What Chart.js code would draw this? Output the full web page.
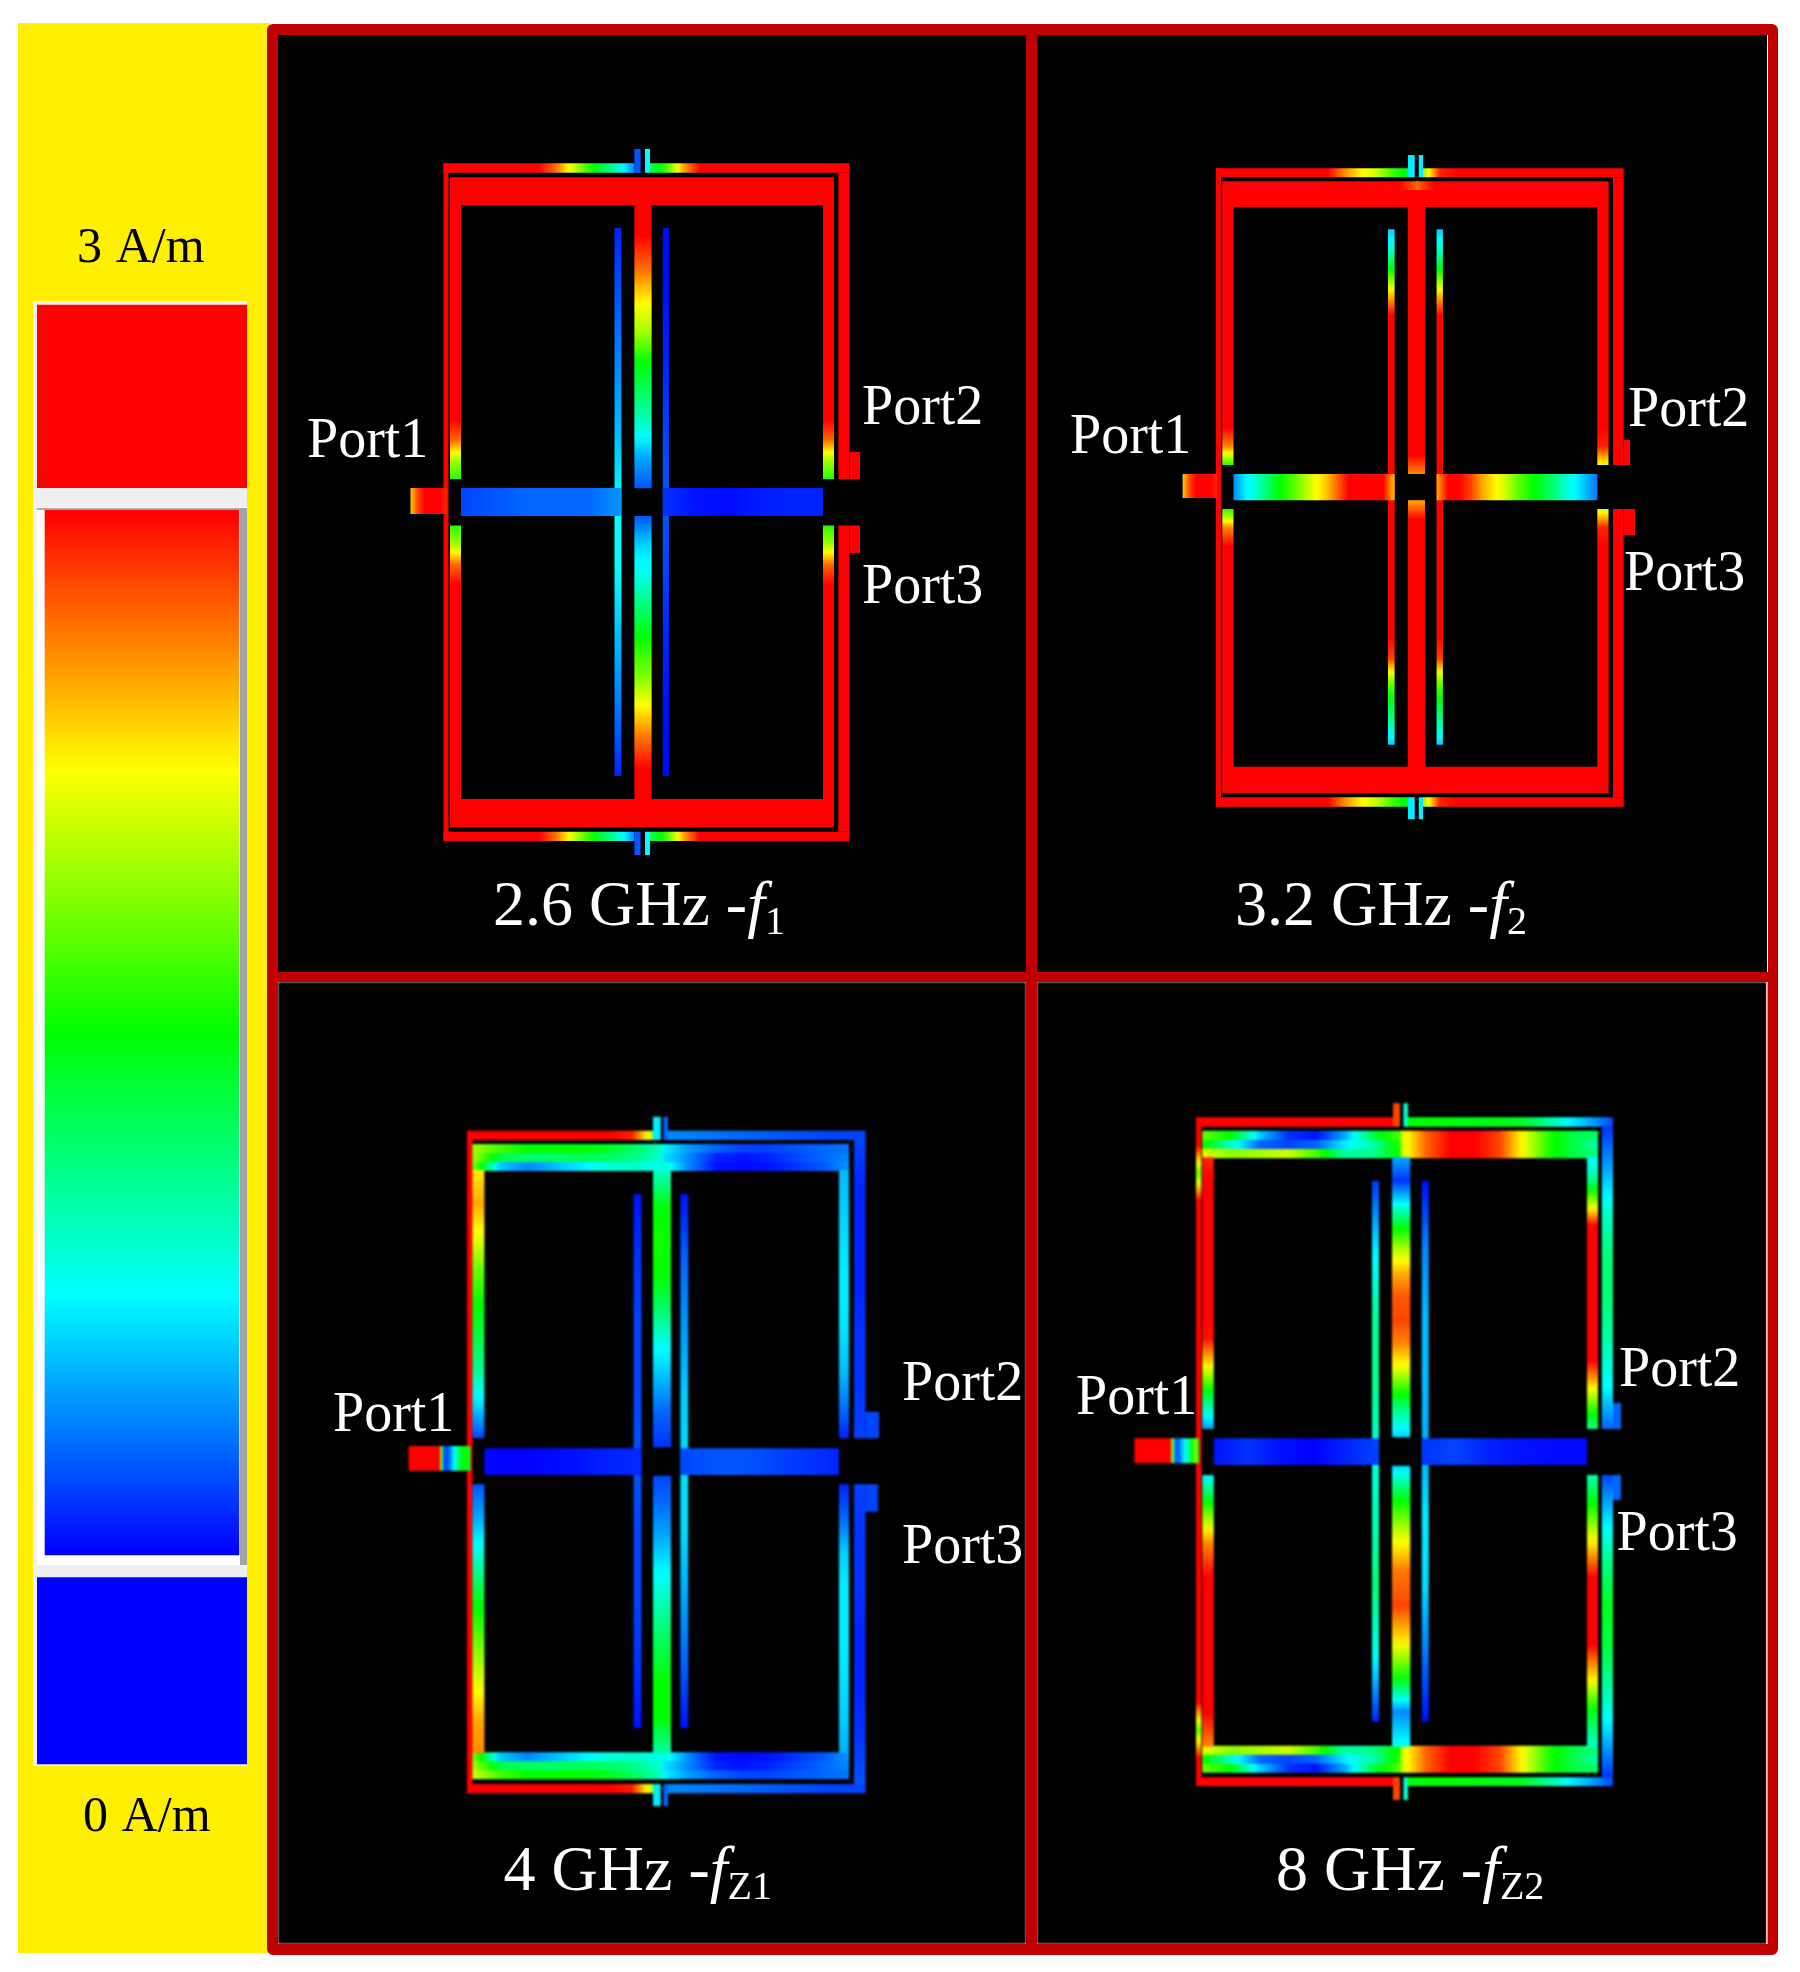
<!DOCTYPE html>
<html lang="en">
<head>
  <meta charset="UTF-8">
  <title>Surface current distribution at 2.6, 3.2, 4 and 8 GHz</title>
  <script src="https://cdn.jsdelivr.net/npm/chart.js"></script>
  <style>
    html, body { margin: 0; background: #fff; }
    #page { position: relative; width: 1800px; height: 1972px; overflow: hidden; font-family: "Liberation Serif", serif; }
    #page > * { position: absolute; }
    canvas { display: block; }
    .label { white-space: pre; line-height: 1; }
    .label sub { font-size: 40px; line-height: 0; vertical-align: baseline; position: relative; top: 9px; }
  </style>
</head>
<body>
  <div id="page"></div>

  <script>
    // --- chart values ---------------------------------------------------
    const scaleLabels = ['0 A/m', '3 A/m'];
    const scaleRange = [0, 3];
    const overRange = [3.064, 3.588];
    const underRange = [-0.6, -0.065];
    const stopValues = [0, 0.75, 1.5, 2.25, 3];
    const stopColors = ['#0000ff', '#00ffff', '#00ff00', '#ffff00', '#ff0000'];

    const frequencies = ['2.6 GHz', '3.2 GHz', '4 GHz', '8 GHz'];
    const subscripts = ['1', '2', 'Z1', 'Z2'];
    const portNames = ['Port1', 'Port2', 'Port3'];

    // Current samples in A/m, evenly spaced along each trace.
    // Order: see traceRects() below.
    const hot = [3];

    const currentsF1 = [
      [3, 3, 3, 3, 3, 3, 3, 2.7, 2.2, 1.7, 1.3, 0.9, 0.4],
      [1.2, 1.7, 2.5, 3, 3, 3, 3, 3, 3, 3, 3, 3, 3],
      [3, 3, 3, 3, 3, 3, 3, 2.7, 2.2, 1.7, 1.3, 0.9, 0.4],
      [1.2, 1.7, 2.5, 3, 3, 3, 3, 3, 3, 3, 3, 3, 3],
      [0.25], [0.75], [0.25], [0.75],
      hot, hot, hot, hot, hot,
      hot, hot, hot, hot, hot, hot,
      hot, hot, hot, hot, hot, hot,
      [3, 3, 3, 3, 3, 3, 3, 3, 3, 3, 3, 3, 2.7, 2, 1.6],
      [1.6, 2, 2.7, 3, 3, 3, 3, 3, 3, 3, 3, 3, 3, 3, 3],
      [3, 3, 3, 3, 3, 3, 3, 3, 3, 3, 3, 3, 2.7, 2, 1.6],
      [1.6, 2, 2.7, 3, 3, 3, 3, 3, 3, 3, 3, 3, 3, 3, 3],
      [3, 3, 2.7, 2.3, 2, 1.5, 1.2, 0.9, 0.5, 0.25],
      [0.25, 0.65, 0.85, 1.2, 1.55, 1.85, 2.25, 2.65, 3, 3],
      [0.1, 0.25, 0.4, 0.55, 0.75, 0.75, 0.55, 0.35, 0.1],
      [0.02, 0.05, 0.1, 0.2, 0.25, 0.2, 0.1, 0.05, 0.02],
      [0.2, 0.25, 0.3, 0.3, 0.3, 0.45],
      [0.15, 0.05, 0.03, 0.08, 0.1, 0.1],
      [2.4, 2.8, 3, 3, 3, 2.9]
    ];

    const currentsF2 = [
      [3, 3, 3, 3, 3, 3, 3, 3, 2.6, 2.3, 2.1, 1.7, 1.4],
      [1.9, 2.9, 3, 3, 3, 3, 3, 3, 3, 3, 3, 3, 3],
      [3, 3, 3, 3, 3, 3, 3, 3, 2.6, 2.3, 2.1, 1.7, 1.4],
      [1.9, 2.9, 3, 3, 3, 3, 3, 3, 3, 3, 3, 3, 3],
      [0.7], [0.7], [0.7], [0.7],
      hot, hot, hot, hot, hot,
      [3, 3, 3, 3, 3, 3, 3, 3, 3, 3, 3, 2.7], hot, hot,
      [2.7, 3, 3, 3, 3, 3, 3, 3, 3, 3, 3, 3], hot, hot,
      hot, hot, hot, hot, hot, hot,
      [3, 3, 3, 3, 3, 3, 3, 3, 3, 3, 3, 3, 3, 2.6, 1.6],
      [1.6, 2.6, 3, 3, 3, 3, 3, 3, 3, 3, 3, 3, 3, 3, 3],
      [3, 3, 3, 3, 3, 3, 3, 3, 3, 3, 3, 3, 3, 2.9, 2.2],
      [2.1, 2.9, 3, 3, 3, 3, 3, 3, 3, 3, 3, 3, 3, 3, 3],
      [3, 3, 3, 3, 3, 3, 3, 3, 3, 3, 3, 3, 3, 3, 2.6],
      [2.5, 3, 3, 3, 3, 3, 3, 3, 3, 3, 3, 3, 3, 3, 3],
      [0.6, 0.9, 1.6, 2.4, 3, 3, 3, 3, 3, 3, 3, 3, 3, 3, 3, 3, 3, 3, 3, 3, 2.8, 1.9, 1.4, 1, 0.6],
      [0.6, 0.9, 1.6, 2.4, 3, 3, 3, 3, 3, 3, 3, 3, 3, 3, 3, 3, 3, 3, 3, 3, 2.8, 1.9, 1.4, 1, 0.6],
      [0.4, 0.7, 0.9, 1.2, 1.5, 1.7, 1.95, 2.2, 2.4, 2.7, 3, 3, 3, 3, 2.4],
      [2.5, 3, 3, 2.8, 2.5, 2.3, 2.1, 1.8, 1.6, 1.4, 1.2, 0.95, 0.75, 0.55, 0.35],
      [2.4, 2.8, 3, 3, 3, 2.9]
    ];

    const currentsZ1 = [
      [3, 3, 3, 3, 3, 3, 3, 3, 2.9, 2],
      [0.4, 0.35, 0.3, 0.25, 0.2, 0.2],
      [3, 3, 3, 3, 3, 3, 3, 3, 2.9, 2],
      [0.4, 0.35, 0.3, 0.25, 0.2, 0.2],
      [0.7], [0.3], [0.7], [0.3],
      hot,
      [0.2, 0.1, 0.1, 0.1, 0.15, 0.15, 0.2],
      [0.2, 0.15, 0.15, 0.1, 0.1, 0.15, 0.25],
      [0.2], [0.2],
      [2, 1.7, 1.5, 1.5, 1.5, 1.4, 1.2, 0.9],
      [2, 1.3, 1.2, 1.2, 1.25, 1.2, 1.1, 0.85],
      [1.9, 0.6, 0.4, 0.55, 0.7, 0.85, 0.9, 0.8],
      [0.75, 0.45, 0.3, 0.2, 0.2, 0.25, 0.3, 0.35],
      [0.7, 0.4, 0.1, 0.05, 0.1, 0.2, 0.3, 0.4],
      [0.9, 0.4, 0.05, 0.03, 0.05, 0.15, 0.25, 0.45],
      [1.9, 0.6, 0.4, 0.55, 0.7, 0.85, 0.9, 0.8],
      [2, 1.3, 1.2, 1.2, 1.25, 1.2, 1.1, 0.85],
      [2.1, 1.7, 1.5, 1.5, 1.5, 1.4, 1.2, 0.9],
      [0.9, 0.4, 0.05, 0.03, 0.05, 0.15, 0.25, 0.45],
      [0.7, 0.4, 0.1, 0.05, 0.1, 0.2, 0.3, 0.4],
      [0.75, 0.45, 0.3, 0.2, 0.2, 0.25, 0.3, 0.35],
      [2.3, 2.5, 2.2, 1.8, 1.5, 1.3, 1.05, 0.65, 0.2],
      [0.25, 0.5, 0.85, 1.25, 1.6, 1.9, 2.2, 2.5, 2.6],
      [0.55, 0.6, 0.65, 0.7, 0.7, 0.65, 0.55, 0.35, 0.1],
      [0.1, 0.3, 0.6, 0.7, 0.7, 0.7, 0.65, 0.6, 0.5],
      [0.9, 1.45, 1.55, 1.5, 1.2, 0.8, 0.55, 0.3, 0.15],
      [0.2, 0.35, 0.55, 0.8, 1.05, 1.3, 1.5, 1.5, 1],
      [0.05, 0.15, 0.2, 0.2, 0.25, 0.2, 0.2, 0.15, 0.05],
      [0.05, 0.3, 0.45, 0.6, 0.65, 0.65, 0.5, 0.3, 0.05],
      [0.02, 0, 0.02, 0.05, 0.1, 0.12],
      [0.2, 0.25, 0.25, 0.2, 0.15, 0.1],
      [3, 3, 3, 3, 3, 3, 3, 3, 3, 0.25, 0.2, 0.5, 0.8, 1.2, 1.5, 1.5, 1.3]
    ];

    const currentsZ2 = [
      hot,
      [1.5, 1.5, 1.5, 1.45, 1.45, 1.4, 1.1, 0.75, 0.5, 0.2],
      hot,
      [1.5, 1.5, 1.5, 1.45, 1.45, 1.4, 1.1, 0.75, 0.5, 0.2],
      [2.8], [0.9], [2.8], [0.9],
      [3, 3, 1.8, 3, 3, 3, 3, 3, 3, 3, 3, 3, 3, 3, 3, 3, 3, 3, 3, 3, 3, 3, 1.8, 3, 3],
      [0.15, 0.5, 0.9, 1.15, 1.15, 1, 0.75, 0.3],
      [0.2, 0.65, 1.1, 1.4, 1.3, 1, 0.6, 0.15],
      [0.3], [0.3],
      [1.8, 1.5, 0.6, 0.15, 0.05, 0.5, 1.3, 1.8],
      [1.6, 0.9, 0.3, 0.2, 0.3, 0.7, 1, 1.7],
      [2.2, 1.9, 2, 2.1, 1.7, 1, 1.1, 1.6],
      [2.1, 2.7, 3, 3, 2.8, 2.2, 1.6, 1.3, 1.2],
      [2.1, 2.7, 3, 3, 2.8, 2.2, 1.6, 1.3, 1],
      [2.1, 2.7, 3, 3, 2.8, 2.2, 1.6, 1.3, 1.1],
      [2.2, 1.9, 2, 2.1, 1.7, 1, 1.1, 1.6],
      [1.6, 0.9, 0.3, 0.2, 0.3, 0.7, 1, 1.7],
      [1.8, 1.5, 0.6, 0.15, 0.05, 0.5, 1.3, 1.8],
      [2.1, 2.7, 3, 3, 2.8, 2.2, 1.6, 1.3, 1.1],
      [2.1, 2.7, 3, 3, 2.8, 2.2, 1.6, 1.3, 1],
      [2.1, 2.7, 3, 3, 2.8, 2.2, 1.6, 1.3, 1.2],
      [2.9, 3, 3, 3, 3, 3, 3, 3, 2.95, 2.4, 1.7, 1, 0.45],
      [0.7, 1.7, 2.6, 3, 3, 3, 3, 3, 2.6],
      [0.7, 1.1, 2, 3, 3, 3, 3, 3, 3, 3, 2.4, 1.7, 1.1],
      [1, 1.6, 2.3, 3, 3, 3, 2.3, 1.4, 0.9],
      [0.5, 0.15, 0.75, 1.45, 2.05, 2.5, 2.75, 2.8, 2.6, 2.2, 1.6, 1, 0.6],
      [0.6, 1.5, 2.15, 2.65, 2.8, 2.3, 1.55, 0.4, 0.8],
      [0.15, 0.7, 1.05, 1.1, 0.85, 0.95, 1.15, 0.8, 0.1],
      [0.03, 0.4, 0.55, 0.55, 0.5, 0.7, 0.65, 0.35, 0.03],
      [0.05, 0.15, 0.05, 0, 0.1, 0.2],
      [0.15, 0.2, 0.1, 0.05, 0.03, 0.03],
      [3, 3, 3, 3, 3, 3, 3, 3, 3, 3, 0.3, 0.3, 0.6, 0.9, 1.3, 1.9, 1.5]
    ];

    // --- layout: board outline of each panel, in page pixels ------------
    const edgeNames = ['oL', 'oL2', 'oR2', 'oR', 'oT', 'oT2', 'oB2', 'oB',
      'sL1', 'sL2', 'sR1', 'sR2', 'sT', 'sB',
      'iL', 'iL2', 'iR2', 'iR', 'iT', 'iT2', 'iB2', 'iB',
      'cL', 'cR', 'cT', 'cB',
      'tL1', 'tL2', 'tR1', 'tR2', 'tT', 'tB',
      'bT', 'bB', 'vT', 'vB',
      'pL', 'pR', 'pT', 'pB',
      'p2R', 'p2T', 'p3R', 'p3B'];

    const edgesF1 = [443.5, 448.4, 838.4, 849.5, 163.3, 172.7, 831.7, 841,
      634.4, 640.6, 645, 650, 149, 855,
      450, 461, 823, 834, 177.3, 205.3, 799, 827.3,
      634.4, 651.6, 488.3, 516,
      614.5, 621.4, 662.8, 668.9, 228, 776,
      488, 516, 479, 525.5,
      410.5, 447, 488, 514,
      860, 451.7, 860, 553];
    const edgesF2 = [1216, 1221, 1613, 1623.7, 168.3, 177.3, 797.3, 806.7,
      1408, 1414.7, 1418.8, 1423, 155, 819.3,
      1222.3, 1233.5, 1597.3, 1608.5, 181.3, 207.3, 766.7, 793.3,
      1408, 1425, 474, 500.3,
      1388, 1394.6, 1436.6, 1442.9, 229.3, 744.7,
      474, 500.3, 465, 509,
      1182.6, 1217, 474, 498,
      1630, 440, 1635, 535];
    const edgesZ1 = [467, 472.4, 854, 865.5, 1130.7, 1140, 1784, 1793.3,
      653, 660.7, 663.4, 668, 1116.7, 1806,
      472.4, 484.4, 839, 849, 1144, 1171, 1752.3, 1779.3,
      653, 671, 1447.3, 1475.7,
      633.6, 641.4, 680.4, 688.2, 1194, 1728,
      1448.3, 1475, 1438.3, 1484.3,
      408.6, 470.6, 1446, 1470.7,
      879, 1411.7, 878, 1511.7];
    const edgesZ2 = [1196, 1201.4, 1601.8, 1613, 1117.3, 1126.7, 1777.3, 1786,
      1393, 1400, 1403.4, 1408, 1103.3, 1800,
      1202.3, 1213.8, 1587, 1598, 1130.7, 1158.3, 1745.7, 1772.7,
      1392, 1410.3, 1437.3, 1465.7,
      1372, 1379, 1421.8, 1428.7, 1180.7, 1721.7,
      1438.3, 1465, 1429, 1475,
      1134.4, 1199, 1438.3, 1463.3,
      1621, 1403, 1621, 1500];

    // [direction, x0, x1, y0, y1], same order as the current arrays
    function traceRects(e) {
      const mid = (e.cL + e.cR) / 2;
      const top = (e.iT2 - e.iT) / 3;
      const bot = (e.iB - e.iB2) / 3;
      const rects = [
        ['h', e.oL, e.sL1, e.oT, e.oT2], ['h', e.sR2, e.oR, e.oT, e.oT2],
        ['h', e.oL, e.sL1, e.oB2, e.oB], ['h', e.sR2, e.oR, e.oB2, e.oB],
        ['v', e.sL1, e.sL2, e.sT, e.oT2], ['v', e.sR1, e.sR2, e.sT, e.oT2],
        ['v', e.sL1, e.sL2, e.oB2, e.sB], ['v', e.sR1, e.sR2, e.oB2, e.sB],
        ['v', e.oL, e.oL2, e.oT, e.oB],
        ['v', e.oR2, e.oR, e.oT2, e.vT], ['v', e.oR2, e.oR, e.vB, e.oB2],
        ['v', e.oR, e.p2R, e.p2T, e.vT], ['v', e.oR, e.p3R, e.vB, e.p3B]
      ];
      // strips overlap by a pixel so no seam shows between them
      const strips = (from, step) => {
        for (const [x0, x1] of [[e.iL, mid + 1], [mid, e.iR]]) {
          for (let i = 0; i < 3; i++) {
            rects.push(['h', x0, x1, from + i * step, from + (i + 1) * step + (i < 2 ? 1 : 0)]);
          }
        }
      };
      strips(e.iT, top);
      strips(e.iB2, bot);
      rects.push(
        ['v', e.iL, e.iL2, e.iT2 - 1, e.vT], ['v', e.iL, e.iL2, e.vB, e.iB2 + 1],
        ['v', e.iR2, e.iR, e.iT2 - 1, e.vT], ['v', e.iR2, e.iR, e.vB, e.iB2 + 1],
        ['v', e.cL, e.cR, e.iT2 - 1, e.cT], ['v', e.cL, e.cR, e.cB, e.iB2 + 1],
        ['v', e.tL1, e.tL2, e.tT, e.tB], ['v', e.tR1, e.tR2, e.tT, e.tB],
        ['h', e.iL2, e.tL2, e.bT, e.bB], ['h', e.tR1, e.iR2, e.bT, e.bB],
        ['h', e.pL, e.pR, e.pT, e.pB]
      );
      return rects;
    }

    // --- helpers --------------------------------------------------------
    const page = document.getElementById('page');

    function box(left, top, width, height, css) {
      const el = document.createElement('div');
      el.style.cssText = `left:${left}px;top:${top}px;width:${width}px;height:${height}px;${css || ''}`;
      page.appendChild(el);
      return el;
    }

    function addCanvas(left, top, width, height, css) {
      const canvas = document.createElement('canvas');
      canvas.width = width;
      canvas.height = height;
      canvas.style.cssText = `left:${left}px;top:${top}px;width:${width}px;height:${height}px;${css || ''}`;
      page.appendChild(canvas);
      return canvas;
    }

    // baseline is given, Liberation Serif sits .8375em under the line top at line-height 1
    function addText(html, left, baseline, size, color, css) {
      const el = document.createElement('div');
      el.className = 'label';
      el.innerHTML = html;
      el.style.cssText = `left:${left}px;top:${baseline - 0.8375 * size}px;font-size:${size}px;color:${color};${css || ''}`;
      page.appendChild(el);
    }

    function hex(c) {
      return [1, 3, 5].map(i => parseInt(c.slice(i, i + 2), 16));
    }

    function colorOf(v) {
      let i = 0;
      while (i < stopValues.length - 2 && v > stopValues[i + 1]) i++;
      const t = Math.min(1, Math.max(0, (v - stopValues[i]) / (stopValues[i + 1] - stopValues[i])));
      const a = hex(stopColors[i]);
      const b = hex(stopColors[i + 1]);
      return `rgb(${a.map((x, k) => Math.round(x + (b[k] - x) * t)).join(',')})`;
    }

    function traceColor(context, rect, samples) {
      const { chart } = context;
      if (samples.length === 1 || !chart.chartArea) return colorOf(samples[0]);
      const [dir, x0, x1, y0, y1] = rect;
      const g = dir === 'v'
        ? chart.ctx.createLinearGradient(0, chart.scales.y.getPixelForValue(y0), 0, chart.scales.y.getPixelForValue(y1))
        : chart.ctx.createLinearGradient(chart.scales.x.getPixelForValue(x0), 0, chart.scales.x.getPixelForValue(x1), 0);
      const steps = 6;
      for (let i = 0; i < samples.length - 1; i++) {
        for (let j = 0; j <= steps; j++) {
          const value = samples[i] + (samples[i + 1] - samples[i]) * j / steps;
          g.addColorStop((i + j / steps) / (samples.length - 1), colorOf(value));
        }
      }
      return g;
    }

    function traceWidth(context, rect) {
      const { chart } = context;
      if (!chart.chartArea) return 1;
      const [dir, x0, x1, y0, y1] = rect;
      return dir === 'v'
        ? Math.abs(chart.scales.x.getPixelForValue(x1) - chart.scales.x.getPixelForValue(x0))
        : Math.abs(chart.scales.y.getPixelForValue(y1) - chart.scales.y.getPixelForValue(y0));
    }

    function drawPanel(left, top, width, height, edges, currents, blur) {
      const e = {};
      edgeNames.forEach((n, i) => { e[n] = edges[i]; });
      const rects = traceRects(e);
      const datasets = rects.map((rect, i) => {
        const [dir, x0, x1, y0, y1] = rect;
        const data = dir === 'v'
          ? [{ x: (x0 + x1) / 2, y: y0 }, { x: (x0 + x1) / 2, y: y1 }]
          : [{ x: x0, y: (y0 + y1) / 2 }, { x: x1, y: (y0 + y1) / 2 }];
        return {
          data: data,
          showLine: true,
          pointRadius: 0,
          borderCapStyle: 'butt',
          borderColor: ctx => traceColor(ctx, rect, currents[i]),
          borderWidth: ctx => traceWidth(ctx, rect)
        };
      }).reverse();

      new Chart(addCanvas(left, top, width, height, `background:#000;filter:blur(${blur}px);`), {
        type: 'scatter',
        data: { datasets: datasets },
        options: {
          responsive: false,
          animation: false,
          devicePixelRatio: 1,
          layout: { padding: 0 },
          plugins: { legend: { display: false }, tooltip: { enabled: false } },
          scales: {
            x: { type: 'linear', display: false, min: left, max: left + width },
            y: { type: 'linear', display: false, reverse: true, min: top, max: top + height }
          }
        }
      });
    }

    function drawColorScale() {
      const gradient = context => {
        const { chart } = context;
        if (!chart.chartArea) return stopColors[0];
        const y = chart.scales.y;
        const g = chart.ctx.createLinearGradient(0, y.getPixelForValue(scaleRange[0]), 0, y.getPixelForValue(scaleRange[1]));
        stopValues.forEach((v, i) => g.addColorStop(v / scaleRange[1], stopColors[i]));
        return g;
      };
      new Chart(addCanvas(33, 301, 214, 1465, 'background:#efefef;'), {
        type: 'bar',
        data: {
          labels: ['A/m'],
          datasets: [
            { data: [scaleRange], backgroundColor: gradient, barThickness: 194 },
            { data: [[-0.029, 3.007]], backgroundColor: '#ffffff', barThickness: 210 },
            { data: [overRange], backgroundColor: stopColors[4], barThickness: 210 },
            { data: [underRange], backgroundColor: stopColors[0], barThickness: 210 }
          ]
        },
        options: {
          responsive: false,
          animation: false,
          devicePixelRatio: 1,
          layout: { padding: { left: 4 } },
          plugins: { legend: { display: false }, tooltip: { enabled: false } },
          scales: {
            x: { display: false, stacked: false },
            y: { display: false, min: -0.606, max: 3.6 }
          },
          datasets: { bar: { grouped: false } }
        }
      });
      box(240, 508, 7, 1057, 'background:#a3a3a3;');
      box(37, 508, 203, 2, 'background:#a8a8a8;');
    }

    // --- page -----------------------------------------------------------
    box(18, 23, 252, 1930, 'background:#fff000;');
    drawColorScale();

    drawPanel(278, 35, 748, 937, edgesF1, currentsF1, 0.4);
    drawPanel(1037, 35, 730, 937, edgesF2, currentsF2, 0.4);
    drawPanel(278, 982, 748, 962, edgesZ1, currentsZ1, 1.2);
    drawPanel(1037, 982, 730, 962, edgesZ2, currentsZ2, 1.2);

    box(267, 24, 1510.5, 1931, 'box-sizing:border-box;border:11px solid #c00000;border-right-width:10.5px;border-radius:6px;');
    box(1026, 30, 11, 1920, 'background:#c00000;');
    box(272, 971.5, 1500, 10.5, 'background:#c00000;');
    box(1766, 982, 1, 962, 'background:#f2b8b8;');

    addText(scaleLabels[1], 77, 262, 50, '#000', 'word-spacing:4px;');
    addText(scaleLabels[0], 83, 1831, 50, '#000', 'word-spacing:4px;');

    const portLeft = [[307, 862, 862], [1070, 1628, 1624], [333, 902, 902], [1076, 1619, 1616.5]];
    const portBase = [[457, 424, 603], [453, 426, 590], [1431, 1400, 1563], [1414, 1386, 1550]];
    const captionLeft = [493, 1235, 503.6, 1276];
    const captionBase = [925.7, 925.7, 1890.7, 1890.7];

    frequencies.forEach((freq, p) => {
      portNames.forEach((name, i) => addText(name, portLeft[p][i], portBase[p][i], 56, '#fff'));
      addText(`${freq} -<i>f</i><sub>${subscripts[p]}</sub>`, captionLeft[p], captionBase[p], 64, '#fff');
    });
  </script>
</body>
</html>
